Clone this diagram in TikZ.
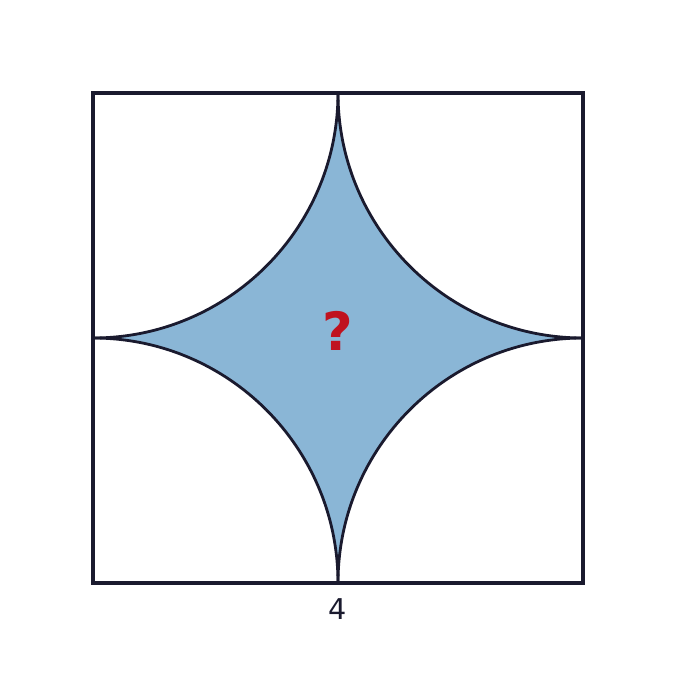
\documentclass[tikz,border=0pt]{standalone}
\usepackage{fontspec}
\setmainfont{DejaVu Sans}
\definecolor{inkdark}{HTML}{1A1A2E}
\definecolor{starblue}{HTML}{8AB6D6}
\definecolor{qred}{HTML}{C0121F}
\begin{document}
	\begin{tikzpicture}[x=2cm, y=2cm, every node/.style={inner sep=0pt}]
		\useasboundingbox (-0.759, -0.759) rectangle (4.759, 4.759);
		
		% shaded star between the four quarter circles
		\fill[starblue] (0,2) arc (90:0:2) arc (180:90:2) arc (270:180:2) arc (360:270:2) -- cycle;
		
		\foreach \x/\y/\a in {0/0/0, 4/0/90, 4/4/180, 0/4/270}
		{
			\draw[inkdark, line width=1.3pt] (\x,\y) ++(\a:2) arc (\a:\a+90:2);
		}
		\draw[inkdark, line width=1.6pt] (0,0) rectangle (4,4);
		
		\node[text=qred, font=\bfseries\fontsize{24.5}{28}\selectfont] (area) at (2,2.055) {?};
		\node[text=inkdark, font=\fontsize{13.3}{16}\selectfont] (side) at (2,-0.215) {4};
	\end{tikzpicture}
\end{document}
